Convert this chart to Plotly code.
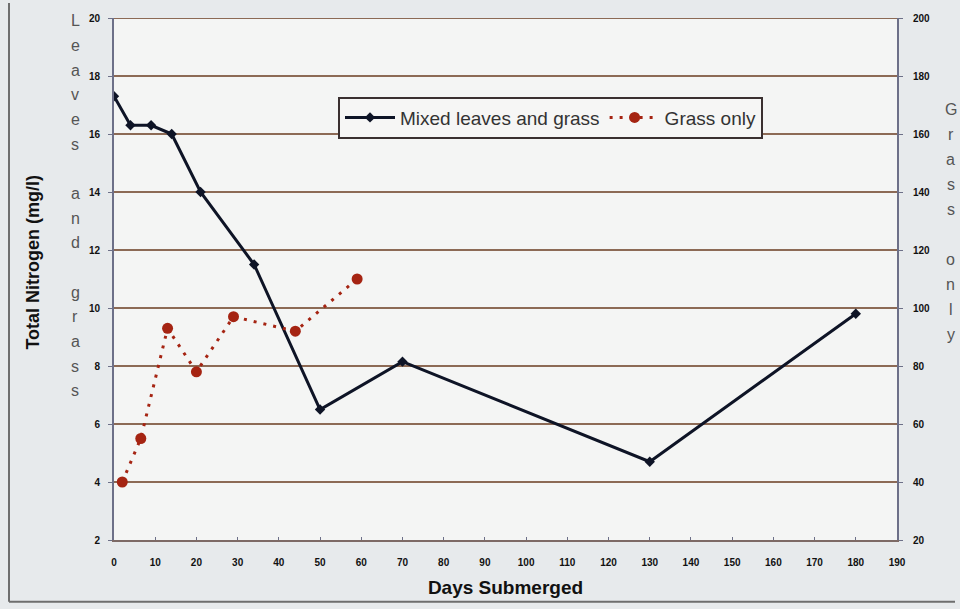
import plotly.graph_objects as go

# Total nitrogen readings
mixed_days = [0, 4, 9, 14, 21, 34, 50, 70, 130, 180]
mixed_n = [17.3, 16.3, 16.3, 16.0, 14.0, 11.5, 6.5, 8.15, 4.7, 9.8]   # left axis, mg/l

grass_days = [2, 6.5, 13, 20, 29, 44, 59]
grass_n = [40, 55, 93, 78, 97, 92, 110]                             # right axis

left_ticks = list(range(2, 21, 2))
right_ticks = list(range(20, 201, 20))
x_ticks = list(range(0, 191, 10))

FONT = "Liberation Sans, Arial, sans-serif"
W, H = 960, 609
L, R, T, B = 114, 63, 15, 69
PW, PH = W - L - R, H - T - B


def px_to_paper(px, py):
    return (px - L) / PW, (H - B - py) / PH


def bold(vals):
    return [f"<b>{v}</b>" for v in vals]


fig = go.Figure()
fig.add_trace(go.Scatter(
    x=mixed_days, y=mixed_n, name="Mixed leaves and grass",
    mode="lines+markers",
    line=dict(color="#0e1426", width=3),
    marker=dict(symbol="diamond", size=8, color="#0e1426"),
))
fig.add_trace(go.Scatter(
    x=grass_days, y=grass_n, name="Grass only", yaxis="y2",
    mode="lines+markers",
    line=dict(color="#a52412", width=3, dash="3px,7px"),
    marker=dict(symbol="circle", size=11, color="#a52412"),
))

tickfont = dict(family=FONT, size=10, color="#111111")
axis_line = "#6d7088"
grid = "#8c6a55"

fig.update_layout(
    width=W, height=H,
    margin=dict(l=L, r=R, t=T, b=B),
    paper_bgcolor="#e7eaec",
    plot_bgcolor="#f4f5f4",
    font=dict(family=FONT),
    xaxis=dict(
        range=[0, 190], tickvals=x_ticks, ticktext=bold(x_ticks),
        tickfont=tickfont, showgrid=False, zeroline=False,
        showline=True, linecolor="#7d6a66", linewidth=2,
        ticks="inside", ticklen=3, tickcolor=axis_line,
        ticklabelstandoff=12,
        title=dict(text="<b>Days Submerged</b>", font=dict(size=19, color="#111111"),
                   standoff=14),
    ),
    yaxis=dict(
        range=[2, 20], tickvals=left_ticks, ticktext=bold(left_ticks),
        tickfont=tickfont, showgrid=True, gridcolor=grid, gridwidth=2,
        zeroline=False, showline=True, linecolor=axis_line, linewidth=2,
        ticks="outside", ticklen=4, tickcolor=axis_line, ticklabelstandoff=6,
    ),
    yaxis2=dict(
        range=[20, 200], tickvals=right_ticks, ticktext=bold(right_ticks),
        tickfont=tickfont, overlaying="y", side="right", showgrid=False,
        zeroline=False, showline=True, linecolor=axis_line, linewidth=2,
        ticks="outside", ticklen=4, tickcolor=axis_line, ticklabelstandoff=8,
    ),
    legend=dict(
        orientation="h",
        x=(338 - L) / PW, y=(H - B - 94) / PH, xanchor="left", yanchor="top",
        bgcolor="#f6f6f5", bordercolor="#3a3030", borderwidth=2,
        font=dict(size=19, color="#333333"),
        itemwidth=50, tracegroupgap=0,
    ),
    showlegend=True,
)

# left axis title, placed by hand
tx, ty = px_to_paper(33, 261)
annotations = [dict(text="<b>Total Nitrogen (mg/l)</b>", x=tx, y=ty, xref="paper",
                    yref="paper", showarrow=False, textangle=-90,
                    xanchor="center", yanchor="middle",
                    font=dict(family=FONT, size=18, color="#111111"))]


# stacked letters for the series names beside each axis
def stacked(text, px, py0, step):
    anns = []
    for i, ch in enumerate(text):
        if ch == " ":
            continue
        x, y = px_to_paper(px, py0 + i * step)
        anns.append(dict(text=ch, x=x, y=y, xref="paper", yref="paper",
                         showarrow=False, xanchor="center", yanchor="middle",
                         font=dict(family=FONT, size=16, color="#555555")))
    return anns

annotations += stacked("Leaves and grass", 75, 18, 24.8)
annotations += stacked("Grass only", 951, 107, 25.1)
fig.update_layout(annotations=annotations)

# top border of the plot area, drawn in the grid colour
fig.add_shape(type="line", xref="paper", yref="y", x0=0, x1=1, y0=20, y1=20,
              line=dict(color=grid, width=2))

# outer frame of the chart
x0, y0 = px_to_paper(9, 0)
x1, y1 = px_to_paper(955, 602)
fig.add_shape(type="line", xref="paper", yref="paper", x0=x0, x1=x0, y0=y0, y1=y1,
              line=dict(color="#6e6e6e", width=2))
fig.add_shape(type="line", xref="paper", yref="paper", x0=x0, x1=x1, y0=y1, y1=y1,
              line=dict(color="#6e6e6e", width=2))

fig.write_html("out.html")
